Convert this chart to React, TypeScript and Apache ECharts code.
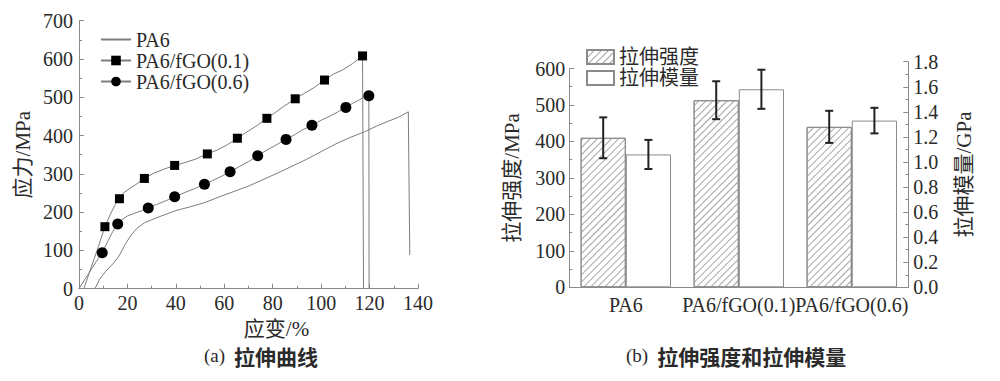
import React, { useEffect, useRef } from 'react';
import * as echarts from 'echarts';

// ---------- (a) stress-strain curves ----------
const pa6Strain = [6.6, 8.5, 11, 14, 16.5, 19, 21.5, 24, 27, 30, 34, 40, 46, 52, 58, 64, 70, 76, 82, 88, 94, 100, 106, 112, 118, 123, 128, 132, 136, 136.6];
const pa6Stress = [0, 25, 45, 65, 85, 115, 140, 158, 172, 180, 190, 204, 214, 225, 240, 254, 268, 285, 302, 320, 338, 358, 378, 395, 410, 425, 438, 448, 462, 88];

const go1Strain = [2, 5, 8, 13, 15, 18, 20, 23, 31, 35, 44, 48, 57, 61, 69, 73, 81, 85, 93, 97, 105, 109, 113, 117.5];
const go1Stress = [0, 55, 110, 195, 220, 248, 258, 270, 302, 312, 330, 338, 362, 375, 408, 424, 460, 478, 510, 525, 560, 572, 588, 0];
const go1MarkStrain = [10.7, 16.7, 27, 39.5, 53, 65.4, 77.6, 89.3, 101.4, 117.1];
const go1MarkStress = [162, 235, 288, 322, 352, 393, 445, 496, 545, 608];

const go6Strain = [0, 4, 7, 12, 14, 18, 20, 23, 26, 32, 36, 44, 48, 55, 59, 66, 70, 77, 81, 89, 92, 100, 104, 107, 113, 116, 117.5, 119.8];
const go6Stress = [0, 40, 70, 125, 150, 182, 190, 197, 204, 220, 230, 252, 262, 282, 294, 318, 332, 360, 374, 402, 414, 440, 452, 462, 484, 494, 500, 0];
const go6MarkStrain = [9.6, 16, 28.6, 39.5, 51.8, 62.4, 73.8, 85.5, 96.2, 110.2, 119.7];
const go6MarkStress = [94, 169, 211, 240, 272.6, 305.5, 347, 390, 427, 473.6, 504];

const curveNames = ['PA6', 'PA6/fGO(0.1)', 'PA6/fGO(0.6)'];

// ---------- (b) strength & modulus ----------
const categories = ['PA6', 'PA6/fGO(0.1)', 'PA6/fGO(0.6)'];
const strength = [410, 513, 440];
const strengthErr = [56, 52, 44];
const modulus = [1.06, 1.58, 1.33];
const modulusErr = [0.116, 0.156, 0.102];
const barNames = ['拉伸强度', '拉伸模量'];

const SERIF = '"Liberation Serif", "Times New Roman", "Noto Sans CJK SC", serif';
const CJK = '"Noto Sans CJK SC", sans-serif';
const AXIS = '#8a8a8a';
const TXT = '#2a2a2a';

function mergeCurve(xs: number[], ys: number[], mx: number[], my: number[]) {
  const pts = xs.map((x, i) => ({ x, y: ys[i], m: false }));
  mx.forEach((x, i) => {
    let k = pts.findIndex((p) => p.x > x);
    if (k < 0) k = pts.length;
    pts.splice(k, 0, { x, y: my[i], m: true });
  });
  return pts.map((p) => (p.m ? { value: [p.x, p.y] } : { value: [p.x, p.y], symbol: 'none' }));
}

function errRender(side: number, color: string) {
  return (params: any, api: any) => {
    const i = api.value(0);
    const lo = api.coord([i, api.value(1)]);
    const hi = api.coord([i, api.value(2)]);
    const band = api.size([1, 0])[0];
    const x = lo[0] + side * band * 0.2;
    const cap = 4;
    const style = { stroke: color, lineWidth: 2 };
    return {
      type: 'group',
      children: [
        { type: 'line', shape: { x1: x, y1: lo[1], x2: x, y2: hi[1] }, style },
        { type: 'line', shape: { x1: x - cap, y1: hi[1], x2: x + cap, y2: hi[1] }, style },
        { type: 'line', shape: { x1: x - cap, y1: lo[1], x2: x + cap, y2: lo[1] }, style },
      ],
    };
  };
}

const hatch = {
  symbol: 'rect',
  symbolSize: 1,
  color: '#a5a5a5',
  backgroundColor: '#fff',
  dashArrayX: [1, 0],
  dashArrayY: [1, 3.5],
  rotation: -Math.PI / 4,
};

export default function App() {
  const ref = useRef<HTMLDivElement>(null);
  useEffect(() => {
    if (!ref.current) return;
    const chart = echarts.init(ref.current, undefined, { renderer: 'svg' });
    const valueAxisCommon = {
      axisLine: { show: true, lineStyle: { color: AXIS, width: 1 } },
      axisTick: { show: true, inside: true, length: 5, lineStyle: { color: AXIS } },
      minorTick: { show: true, splitNumber: 2, length: 3, lineStyle: { color: AXIS } },
      splitLine: { show: false },
      minorSplitLine: { show: false },
      nameTextStyle: { fontFamily: SERIF, fontSize: 21, color: TXT },
    };
    const titleRich = {
      a: { fontFamily: SERIF, fontSize: 19, fontWeight: 'normal', color: TXT },
      b: { fontFamily: CJK, fontSize: 21, fontWeight: 'bold', color: TXT },
    };
    const option: any = {
      animation: false,
      backgroundColor: '#fff',
      textStyle: { fontFamily: SERIF },
      title: [
        {
          text: '{a|(a)}  {b|拉伸曲线}',
          left: 204,
          top: 345,
          padding: 0,
          textStyle: { fontWeight: 'normal', rich: titleRich },
        },
        {
          text: '{a|(b)}  {b|拉伸强度和拉伸模量}',
          left: 626,
          top: 345,
          padding: 0,
          textStyle: { fontWeight: 'normal', rich: titleRich },
        },
      ],
      legend: [
        {
          data: [
            { name: curveNames[0], itemStyle: { opacity: 0 } },
            { name: curveNames[1] },
            { name: curveNames[2] },
          ],
          orient: 'vertical',
          left: 100,
          top: 29.5,
          padding: 0,
          itemWidth: 30,
          itemHeight: 12,
          itemGap: 1,
          textStyle: { fontFamily: SERIF, fontSize: 20, color: TXT },
        },
        {
          data: barNames,
          icon: 'rect',
          orient: 'vertical',
          left: 586,
          top: 47,
          padding: 0,
          itemWidth: 27,
          itemHeight: 14,
          itemGap: 1,
          textStyle: { fontFamily: SERIF, fontSize: 20, color: TXT },
        },
      ],
      grid: [
        { left: 79, top: 20.7, width: 339, height: 268 },
        { left: 569.3, top: 68.5, width: 339, height: 218.8 },
        { left: 569.3, top: 61.7, width: 339, height: 225.6 },
      ],
      xAxis: [
        {
          ...valueAxisCommon,
          type: 'value',
          gridIndex: 0,
          min: 0,
          max: 140,
          interval: 20,
          name: '应变/%',
          nameLocation: 'middle',
          nameGap: 30,
          nameTextStyle: { fontFamily: SERIF, fontSize: 21, color: TXT, padding: [0, 0, 0, 56] },
          axisLabel: { margin: 4, fontSize: 20, color: TXT, fontFamily: SERIF },
        },
        {
          type: 'category',
          gridIndex: 1,
          data: categories,
          axisLine: { show: true, lineStyle: { color: AXIS, width: 1 } },
          axisTick: { show: false },
          axisLabel: { margin: 8, fontSize: 20, color: TXT, fontFamily: SERIF, interval: 0 },
        },
        { type: 'category', gridIndex: 2, data: categories, show: false },
      ],
      yAxis: [
        {
          ...valueAxisCommon,
          type: 'value',
          gridIndex: 0,
          min: 0,
          max: 700,
          interval: 100,
          name: '应力/MPa',
          nameLocation: 'middle',
          nameGap: 46,
          nameRotate: 90,
          axisLabel: { margin: 6, fontSize: 20, color: TXT, fontFamily: SERIF },
        },
        {
          ...valueAxisCommon,
          type: 'value',
          gridIndex: 1,
          min: 0,
          max: 600,
          interval: 100,
          name: '拉伸强度/MPa',
          nameLocation: 'middle',
          nameGap: 47,
          nameRotate: 90,
          axisLabel: { margin: 4, fontSize: 20, color: TXT, fontFamily: SERIF },
        },
        {
          ...valueAxisCommon,
          type: 'value',
          gridIndex: 2,
          position: 'right',
          min: 0,
          max: 1.8,
          interval: 0.2,
          name: '拉伸模量/GPa',
          nameLocation: 'middle',
          nameGap: 45,
          nameRotate: 90,
          axisLabel: { margin: 5, fontSize: 20, color: TXT, fontFamily: SERIF, formatter: (v: number) => v.toFixed(1) },
        },
      ],
      series: [
        {
          name: curveNames[0],
          type: 'line',
          xAxisIndex: 0,
          yAxisIndex: 0,
          symbol: 'none',
          lineStyle: { color: '#7d7d7d', width: 1 },
          itemStyle: { color: '#7d7d7d' },
          data: pa6Strain.map((x, i) => [x, pa6Stress[i]]),
        },
        {
          name: curveNames[1],
          type: 'line',
          xAxisIndex: 0,
          yAxisIndex: 0,
          symbol: 'rect',
          symbolSize: 9,
          showAllSymbol: true,
          lineStyle: { color: '#7d7d7d', width: 1 },
          itemStyle: { color: '#000' },
          data: mergeCurve(go1Strain, go1Stress, go1MarkStrain, go1MarkStress),
          z: 3,
        },
        {
          name: curveNames[2],
          type: 'line',
          xAxisIndex: 0,
          yAxisIndex: 0,
          symbol: 'circle',
          symbolSize: 11,
          showAllSymbol: true,
          lineStyle: { color: '#7d7d7d', width: 1 },
          itemStyle: { color: '#000' },
          data: mergeCurve(go6Strain, go6Stress, go6MarkStrain, go6MarkStress),
          z: 3,
        },
        {
          name: barNames[0],
          type: 'bar',
          xAxisIndex: 1,
          yAxisIndex: 1,
          barGap: 0,
          barCategoryGap: '20%',
          itemStyle: { color: '#fff', borderColor: '#8a8a8a', borderWidth: 1, decal: hatch },
          data: strength,
        },
        {
          type: 'bar',
          xAxisIndex: 1,
          yAxisIndex: 1,
          barGap: 0,
          barCategoryGap: '20%',
          data: [null, null, null],
        },
        {
          type: 'bar',
          xAxisIndex: 2,
          yAxisIndex: 2,
          barGap: 0,
          barCategoryGap: '20%',
          data: [null, null, null],
        },
        {
          name: barNames[1],
          type: 'bar',
          xAxisIndex: 2,
          yAxisIndex: 2,
          barGap: 0,
          barCategoryGap: '20%',
          itemStyle: { color: '#fff', borderColor: '#8a8a8a', borderWidth: 1 },
          data: modulus,
        },
        {
          type: 'custom',
          xAxisIndex: 1,
          yAxisIndex: 1,
          renderItem: errRender(-1, '#222'),
          encode: { x: 0, y: [1, 2] },
          data: categories.map((_, i) => [i, strength[i] - strengthErr[i], strength[i] + strengthErr[i]]),
          z: 10,
        },
        {
          type: 'custom',
          xAxisIndex: 2,
          yAxisIndex: 2,
          renderItem: errRender(1, '#222'),
          encode: { x: 0, y: [1, 2] },
          data: categories.map((_, i) => [i, modulus[i] - modulusErr[i], modulus[i] + modulusErr[i]]),
          z: 10,
        },
      ],
    };
    chart.setOption(option);
    return () => chart.dispose();
  }, []);
  return <div ref={ref} style={{ position: 'absolute', left: 0, top: 0, width: 1000, height: 381 }} />;
}
